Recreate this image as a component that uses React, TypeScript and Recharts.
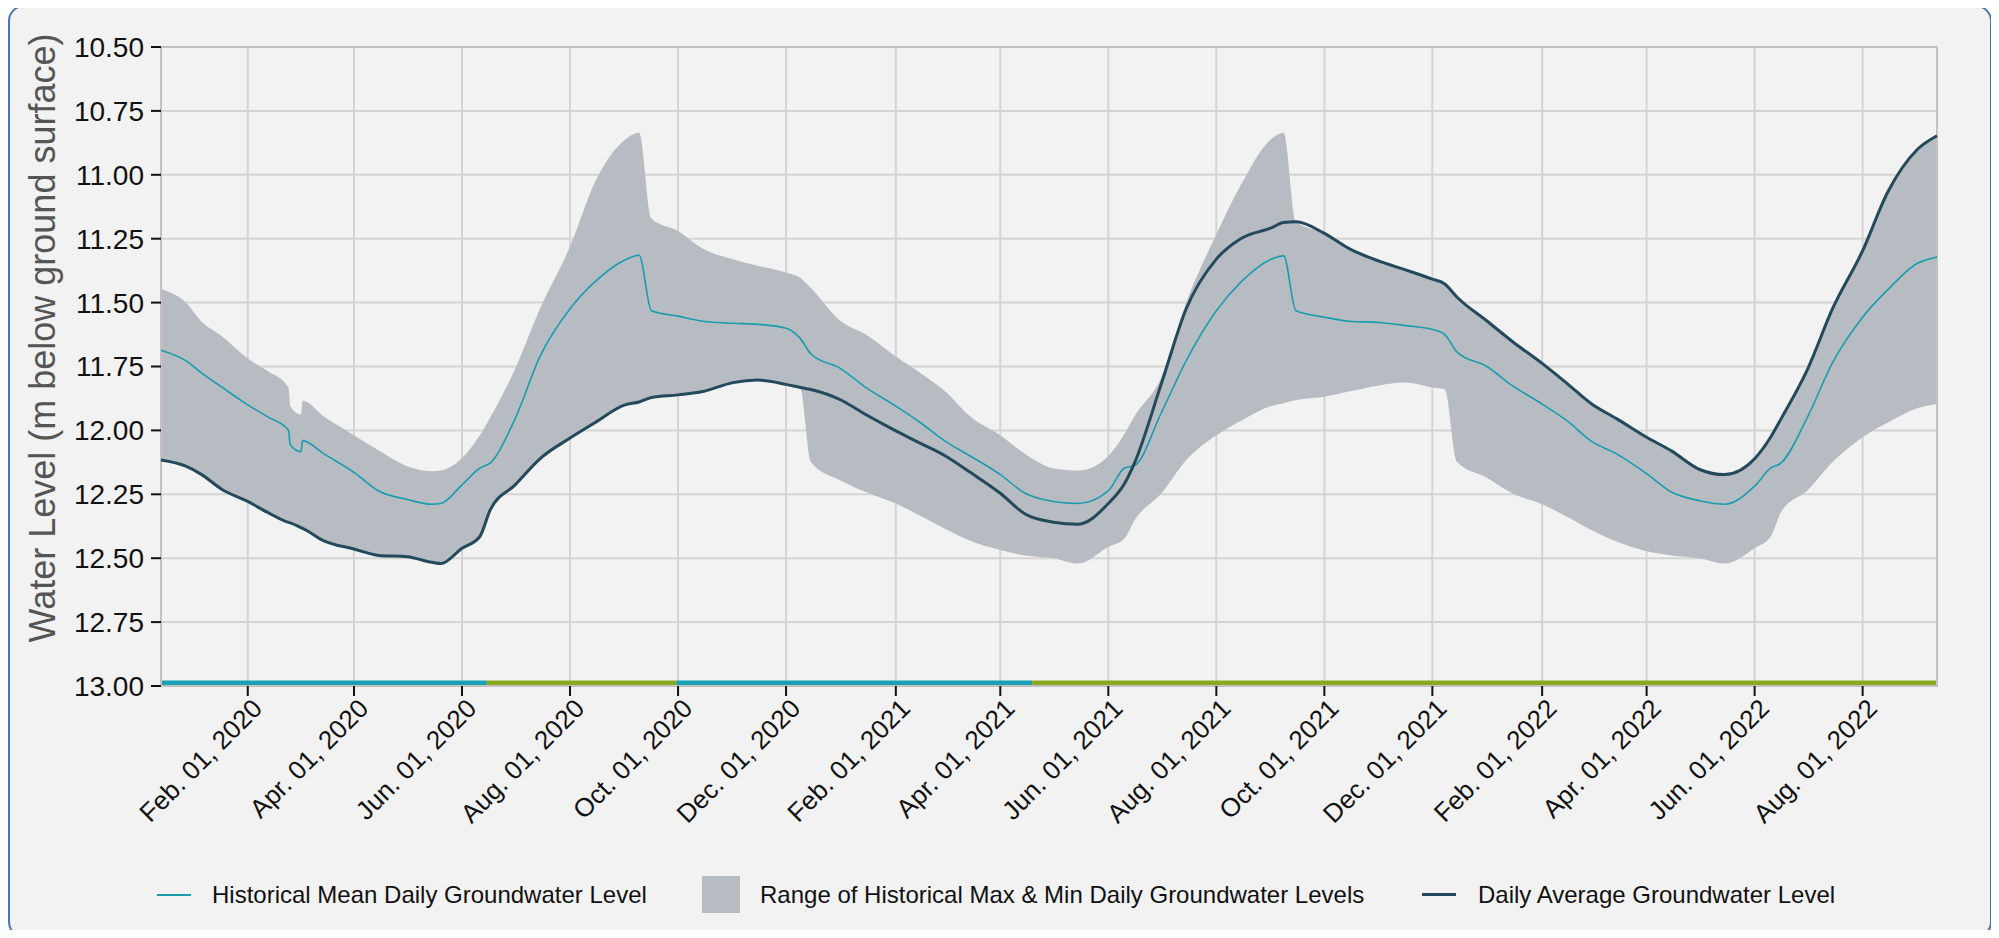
import React from "react";
import {
  ComposedChart,
  Area,
  Line,
  XAxis,
  YAxis,
  CartesianGrid,
  ReferenceArea,
} from "recharts";

// sample dates (roughly twice a month plus the sharp steps)
const dates = [
  "2019-12-14", "2019-12-28",
  "2020-01-06", "2020-01-17", "2020-02-01", "2020-02-12", "2020-02-24", "2020-02-25", "2020-03-02", "2020-03-03",
  "2020-03-15", "2020-04-01", "2020-04-15", "2020-05-01", "2020-05-15", "2020-05-20", "2020-06-01", "2020-06-11",
  "2020-06-17", "2020-07-01", "2020-07-15", "2020-08-01", "2020-08-15", "2020-09-01", "2020-09-09", "2020-09-16",
  "2020-10-01", "2020-10-15", "2020-11-01", "2020-11-15", "2020-12-01", "2020-12-09", "2020-12-15",
  "2021-01-01", "2021-01-15", "2021-02-01", "2021-02-15", "2021-03-01", "2021-03-15", "2021-04-01", "2021-04-15",
  "2021-05-01", "2021-05-15", "2021-06-01", "2021-06-10", "2021-06-16", "2021-07-01", "2021-07-15", "2021-08-01",
  "2021-08-15", "2021-09-01", "2021-09-08", "2021-09-15", "2021-10-01", "2021-10-15", "2021-11-01", "2021-11-15",
  "2021-12-01", "2021-12-08", "2021-12-15",
  "2022-01-01", "2022-01-15", "2022-02-01", "2022-02-15", "2022-03-01", "2022-03-15", "2022-04-01", "2022-04-15",
  "2022-05-01", "2022-05-15", "2022-06-01", "2022-06-10", "2022-06-16", "2022-07-01", "2022-07-15", "2022-08-01",
  "2022-08-15", "2022-09-01", "2022-09-12",
];

// historical max (shallowest) daily level
const rangeTop = [
  11.447, 11.5,
  11.575, 11.63, 11.719, 11.767, 11.832, 11.905, 11.938, 11.884,
  11.946, 12.019, 12.079, 12.14, 12.16, 12.157, 12.108, 12.02,
  11.949, 11.759, 11.524, 11.281, 11.03, 10.863, 10.835, 11.171,
  11.22, 11.289, 11.33, 11.356, 11.382, 11.403, 11.443,
  11.573, 11.625, 11.711, 11.776, 11.848, 11.946, 12.019, 12.092,
  12.148, 12.157, 12.1, 12.015, 11.943, 11.792, 11.5, 11.233,
  11.038, 10.86, 10.835, 11.184, 11.229, 11.289, 11.338, 11.37,
  11.408, 11.427, 11.479,
  11.573, 11.651, 11.738, 11.816, 11.897, 11.954, 12.027, 12.08,
  12.153, 12.173, 12.111, 12.027, 11.954, 11.759, 11.524, 11.297,
  11.07, 10.9, 10.847,
];

// historical min (deepest) daily level
const rangeBottom = [
  12.116, 12.14,
  12.173, 12.229, 12.278, 12.32, 12.36, 12.362, 12.38, 12.383,
  12.432, 12.464, 12.489, 12.494, 12.516, 12.521, 12.461, 12.416,
  12.31, 12.213, 12.111, 12.03, 11.97, 11.9, 11.889, 11.871,
  11.861, 11.848, 11.813, 11.803, 11.82, 11.835, 12.124,
  12.197, 12.241, 12.286, 12.335, 12.386, 12.432, 12.468, 12.489,
  12.5, 12.521, 12.456, 12.424, 12.35, 12.246, 12.116, 12.019,
  11.962, 11.905, 11.894, 11.881, 11.868, 11.848, 11.824, 11.813,
  11.832, 11.84, 12.124,
  12.186, 12.246, 12.289, 12.338, 12.391, 12.435, 12.473, 12.489,
  12.5, 12.521, 12.461, 12.416, 12.318, 12.234, 12.124, 12.027,
  11.97, 11.913, 11.897,
];

const histMean = [
  11.686, 11.727,
  11.776, 11.829, 11.9, 11.946, 11.999, 12.056, 12.083, 12.04,
  12.092, 12.164, 12.237, 12.27, 12.289, 12.286, 12.213, 12.148,
  12.127, 11.954, 11.711, 11.524, 11.419, 11.333, 11.315, 11.532,
  11.553, 11.573, 11.581, 11.585, 11.6, 11.64, 11.7,
  11.759, 11.832, 11.905, 11.97, 12.043, 12.1, 12.173, 12.246,
  12.278, 12.286, 12.237, 12.148, 12.137, 11.93, 11.727, 11.532,
  11.419, 11.33, 11.317, 11.532, 11.557, 11.573, 11.578, 11.589,
  11.605, 11.625, 11.694,
  11.751, 11.824, 11.897, 11.962, 12.043, 12.092, 12.169, 12.241,
  12.275, 12.289, 12.218, 12.148, 12.127, 11.946, 11.735, 11.557,
  11.451, 11.346, 11.322,
];

const dailyAvg = [
  12.116, 12.14,
  12.173, 12.229, 12.278, 12.32, 12.36, 12.362, 12.38, 12.383,
  12.432, 12.464, 12.489, 12.494, 12.516, 12.521, 12.461, 12.416,
  12.31, 12.213, 12.111, 12.03, 11.97, 11.9, 11.889, 11.871,
  11.861, 11.848, 11.813, 11.803, 11.82, 11.832, 11.84,
  11.881, 11.938, 12.002, 12.051, 12.1, 12.164, 12.246, 12.327,
  12.359, 12.367, 12.286, 12.21, 12.124, 11.816, 11.524, 11.33,
  11.249, 11.208, 11.187, 11.184, 11.229, 11.289, 11.338, 11.37,
  11.408, 11.427, 11.479,
  11.573, 11.651, 11.738, 11.816, 11.897, 11.954, 12.027, 12.08,
  12.153, 12.173, 12.111, 12.027, 11.954, 11.759, 11.524, 11.297,
  11.07, 10.9, 10.847,
];

// coloured strip along the bottom
const gradeStart = ["2019-12-14", "2020-06-15", "2020-09-30", "2021-04-19"];
const gradeEnd = ["2020-06-15", "2020-09-30", "2021-04-19", "2022-09-12"];
const gradeKind = ["A", "B", "A", "B"];

const tickDates = [
  "2020-02-01", "2020-04-01", "2020-06-01", "2020-08-01", "2020-10-01", "2020-12-01",
  "2021-02-01", "2021-04-01", "2021-06-01", "2021-08-01", "2021-10-01", "2021-12-01",
  "2022-02-01", "2022-04-01", "2022-06-01", "2022-08-01",
];
const yTicks = [10.5, 10.75, 11, 11.25, 11.5, 11.75, 12, 12.25, 12.5, 12.75, 13];
const monthNames = ["Jan.", "Feb.", "Mar.", "Apr.", "May", "Jun.", "Jul.", "Aug.", "Sep.", "Oct.", "Nov.", "Dec."];

const FONT = '"Liberation Sans", Arial, sans-serif';
const MEAN_COLOR = "#1a9caf";
const DAILY_COLOR = "#23495b";
const RANGE_COLOR = "#b7bcc3";
const GRADE_COLORS: Record<string, string> = { A: "#1aa0b5", B: "#8aa81e" };

const toTime = (d: string) => Date.parse(d + "T00:00:00Z");
const fmtDate = (t: number) => {
  const d = new Date(t);
  return `${monthNames[d.getUTCMonth()]} ${String(d.getUTCDate()).padStart(2, "0")}, ${d.getUTCFullYear()}`;
};

const data = dates.map((d, i) => ({
  t: toTime(d),
  range: [rangeTop[i], rangeBottom[i]],
  mean: histMean[i],
  daily: dailyAvg[i],
}));

const tStart = toTime(dates[0]);
const tEnd = toTime(dates[dates.length - 1]);

const DateTick = (props: any) => {
  const { x, y, payload } = props;
  const px = x + 16;
  const py = y + 12;
  return (
    <text
      x={px}
      y={py}
      transform={`rotate(-45, ${px}, ${py})`}
      textAnchor="end"
      fontSize={26}
      fontFamily={FONT}
      fill="#111"
    >
      {fmtDate(payload.value)}
    </text>
  );
};

const YTitle = () => (
  <text
    x={55}
    y={338}
    transform="rotate(-90, 55, 338)"
    textAnchor="middle"
    fontSize={36}
    fontFamily={FONT}
    fill="#555"
  >
    Water Level (m below ground surface)
  </text>
);

const legendText: React.CSSProperties = {
  position: "absolute",
  top: 880,
  lineHeight: "30px",
  fontSize: 24,
  color: "#111",
  whiteSpace: "nowrap",
};

const App: React.FC = () => {
  return (
    <div style={{ position: "relative", width: 1999, height: 938, margin: -8, overflow: "hidden", fontFamily: FONT }}>
      <div
        style={{
          position: "absolute",
          left: 8,
          top: 5,
          width: 1984,
          height: 933,
          boxSizing: "border-box",
          border: "2px solid #4a77a8",
          borderRadius: 16,
          background: "#f2f2f2",
        }}
      />
      <div style={{ position: "absolute", left: 0, top: 0 }}>
        <ComposedChart width={1999} height={938} data={data} margin={{ top: 47, right: 62, bottom: 192, left: 0 }}>
          <CartesianGrid stroke="#d4d4d4" strokeWidth={2} />
          <XAxis
            dataKey="t"
            type="number"
            domain={[tStart, tEnd]}
            ticks={tickDates.map(toTime)}
            tick={<DateTick />}
            tickSize={10}
            tickLine={{ stroke: "#111", strokeWidth: 2 }}
            axisLine={false}
            height={60}
            interval={0}
          />
          <YAxis
            type="number"
            domain={[10.5, 13]}
            reversed
            ticks={yTicks}
            tickFormatter={(v: number) => v.toFixed(2)}
            tick={{ fontSize: 28, fill: "#111", fontFamily: FONT }}
            tickSize={10}
            tickMargin={7}
            tickLine={{ stroke: "#111", strokeWidth: 2 }}
            axisLine={false}
            width={161}
            interval={0}
            label={{ content: () => <YTitle /> }}
          />
          <Area
            dataKey="range"
            type="monotone"
            fill={RANGE_COLOR}
            fillOpacity={1}
            stroke="none"
            dot={false}
            activeDot={false}
            isAnimationActive={false}
          />
          <Line
            dataKey="mean"
            type="monotone"
            stroke={MEAN_COLOR}
            strokeWidth={1.6}
            dot={false}
            activeDot={false}
            isAnimationActive={false}
          />
          <Line
            dataKey="daily"
            type="monotone"
            stroke={DAILY_COLOR}
            strokeWidth={3}
            dot={false}
            activeDot={false}
            isAnimationActive={false}
          />
          {gradeStart.map((s, i) => (
            <ReferenceArea
              key={s}
              x1={toTime(s)}
              x2={toTime(gradeEnd[i])}
              y1={12.978}
              y2={13}
              fill={GRADE_COLORS[gradeKind[i]]}
              fillOpacity={1}
              stroke="none"
            />
          ))}
          <ReferenceArea x1={tStart} x2={tEnd} y1={10.5} y2={13} fill="none" stroke="#c2c2c2" strokeWidth={2} />
        </ComposedChart>
      </div>

      {/* legend */}
      <div style={{ position: "absolute", left: 157, top: 894, width: 34, height: 2, background: MEAN_COLOR }} />
      <span style={{ ...legendText, left: 212 }}>Historical Mean Daily Groundwater Level</span>
      <div style={{ position: "absolute", left: 702, top: 876, width: 38, height: 37, background: RANGE_COLOR }} />
      <span style={{ ...legendText, left: 760 }}>Range of Historical Max &amp; Min Daily Groundwater Levels</span>
      <div style={{ position: "absolute", left: 1422, top: 893, width: 34, height: 3, background: DAILY_COLOR }} />
      <span style={{ ...legendText, left: 1478 }}>Daily Average Groundwater Level</span>
    </div>
  );
};

export default App;
